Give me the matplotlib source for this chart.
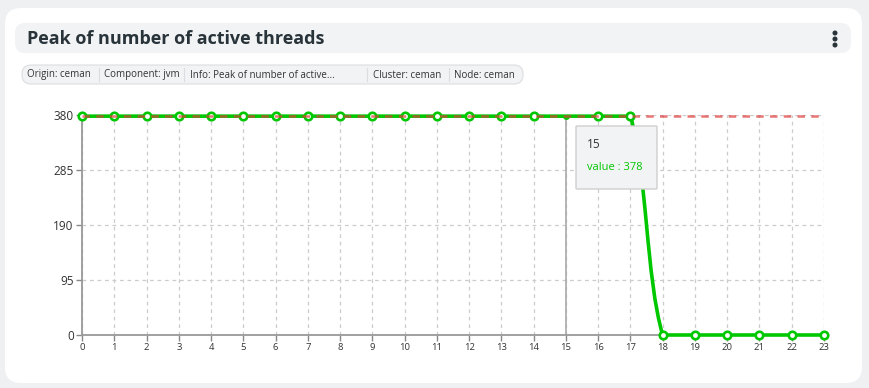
import numpy as np
import matplotlib
matplotlib.use('Agg')
from matplotlib import pyplot as plt
from matplotlib.patches import FancyBboxPatch, PathPatch
from matplotlib.path import Path
from matplotlib.transforms import IdentityTransform

hours = [0, 1, 2, 3, 4, 5, 6, 7, 8, 9, 10, 11, 12, 13, 14, 15, 16, 17, 18, 19, 20, 21, 22, 23]
values = [378, 378, 378, 378, 378, 378, 378, 378, 378, 378, 378, 378,
          378, 378, 378, 378, 378, 378, 0, 0, 0, 0, 0, 0]
y_ticks = [0, 95, 190, 285, 380]
max_value = 378
hover_index = 15
title = 'Peak of number of active threads'
tags = ['Origin: ceman', 'Component: jvm', 'Info: Peak of number of active...',
        'Cluster: ceman', 'Node: ceman']

W, H = 869, 388
GREEN = '#00c800'
TEXT = '#333333'

plt.rcParams['font.family'] = ['Open Sans', 'DejaVu Sans']
fig = plt.figure(figsize=(W / 100, H / 100), dpi=100, facecolor='#eef0f2')


def px(x, y):
    # top-left pixel coords -> display coords
    return x, H - y


def rbox(x0, y0, x1, y1, r, fc, ec='none', lw=0, z=-10):
    bx, by = px(x0, y1)
    p = FancyBboxPatch((bx, by), x1 - x0, y1 - y0,
                       boxstyle='round,pad=0,rounding_size=%g' % r,
                       fc=fc, ec=ec, lw=lw, transform=IdentityTransform(), zorder=z)
    fig.patches.append(p)


# card, title bar, tag pill
rbox(5, 8, 862, 383, 16, 'white', z=-12)
rbox(15, 23, 851, 53, 10, '#f2f3f4')
fig.text(27 / W, 1 - 39 / H, title, fontsize=13, fontweight='bold',
         color='#28333a', va='center')
for dy in (33, 39, 45):
    fig.patches.append(plt.Circle(px(835, dy), 1.8, color='#28333a',
                                  transform=IdentityTransform(), zorder=-5))
rbox(22, 65, 523, 84, 9, '#f2f3f4', ec='#dcdde0', lw=0.8)
tag_x = [27, 104, 190, 373, 454]
sep_x = [99, 184, 367, 449]
for tx, t in zip(tag_x, tags):
    fig.text(tx / W, 1 - 75 / H, t, fontsize=7, color=TEXT, va='center')
for sx in sep_x:
    fig.lines.append(plt.Line2D([sx / W, sx / W], [1 - 68 / H, 1 - 81 / H],
                                color='#dcdde0', lw=0.8, transform=fig.transFigure,
                                zorder=-5))

# plot area
x0, x1, ytop, ybot = 82, 824, 115, 335
ax = fig.add_axes([x0 / W, 1 - ybot / H, (x1 - x0) / W, (ybot - ytop) / H])
ax.set_facecolor('none')
ax.set_xlim(0, 23)
ax.set_ylim(0, 380)
ax.set_xticks(hours)
ax.set_yticks(y_ticks)
ax.tick_params(axis='both', colors='#888888', labelcolor=TEXT,
               length=4, width=1, pad=2)
ax.tick_params(axis='y', labelsize=8.5)
ax.tick_params(axis='x', labelsize=6.8)
for s in ('top', 'right'):
    ax.spines[s].set_visible(False)
for s in ('left', 'bottom'):
    ax.spines[s].set_color('#999999')
    ax.spines[s].set_linewidth(1.3)
ax.grid(True, color='#cccccc', linestyle=(0, (3, 3)), linewidth=0.9)
ax.set_axisbelow(True)

# hover crossline
ax.axvline(hours[hover_index], color='#aaaaaa', lw=1.2, zorder=2)

# smooth line (echarts-like bezier in pixel space)
pts = ax.transData.transform(np.column_stack([hours, values]))
ymin_px, ymax_px = pts[:, 1].min(), pts[:, 1].max()
smooth = 0.3
cps = []
for i in range(len(pts)):
    p = pts[i]
    prev = pts[max(i - 1, 0)]
    nxt = pts[min(i + 1, len(pts) - 1)]
    v = (nxt - prev) * smooth
    d0 = np.hypot(*(p - prev))
    d1 = np.hypot(*(p - nxt))
    s = d0 + d1
    if s > 0:
        d0, d1 = d0 / s, d1 / s
    c0 = p - v * d0
    c1 = p + v * d1
    c0[1] = np.clip(c0[1], ymin_px, ymax_px)
    c1[1] = np.clip(c1[1], ymin_px, ymax_px)
    cps.append((c0, c1))
verts = [pts[0]]
codes = [Path.MOVETO]
for i in range(len(pts) - 1):
    verts += [cps[i][1], cps[i + 1][0], pts[i + 1]]
    codes += [Path.CURVE4] * 3
verts = ax.transData.inverted().transform(np.array(verts))
ax.add_patch(PathPatch(Path(verts, codes), fc='none', ec=GREEN, lw=2.6,
                       zorder=3, clip_on=False, capstyle='round'))

mx = [h for h in hours if h != hours[hover_index]]
my = [v for h, v in zip(hours, values) if h != hours[hover_index]]
ax.plot(mx, my, 'o', ms=5.4, mfc='white', mec=GREEN, mew=1.9, zorder=4, clip_on=False)
ax.plot(hours[hover_index], values[hover_index], 'o', ms=4, color=GREEN, zorder=4)

# max mark line
ax.plot([hours[0], hours[-1]], [max_value, max_value], color='#e03c3c', alpha=0.7,
        lw=1.8, linestyle=(0, (3, 2.5)), zorder=5, clip_on=False)

# tooltip
rbox(576, 126, 657, 189, 1, '#f2f3f4', ec='#cfcfcf', lw=1, z=5)
fig.text(587 / W, 1 - 145 / H, str(hours[hover_index]), fontsize=8.5, color=TEXT,
         va='center', zorder=6)
fig.text(587 / W, 1 - 167 / H, 'value : %d' % values[hover_index], fontsize=8,
         color=GREEN, va='center', zorder=6)

fig.savefig('out.png', dpi=100, facecolor=fig.get_facecolor())
